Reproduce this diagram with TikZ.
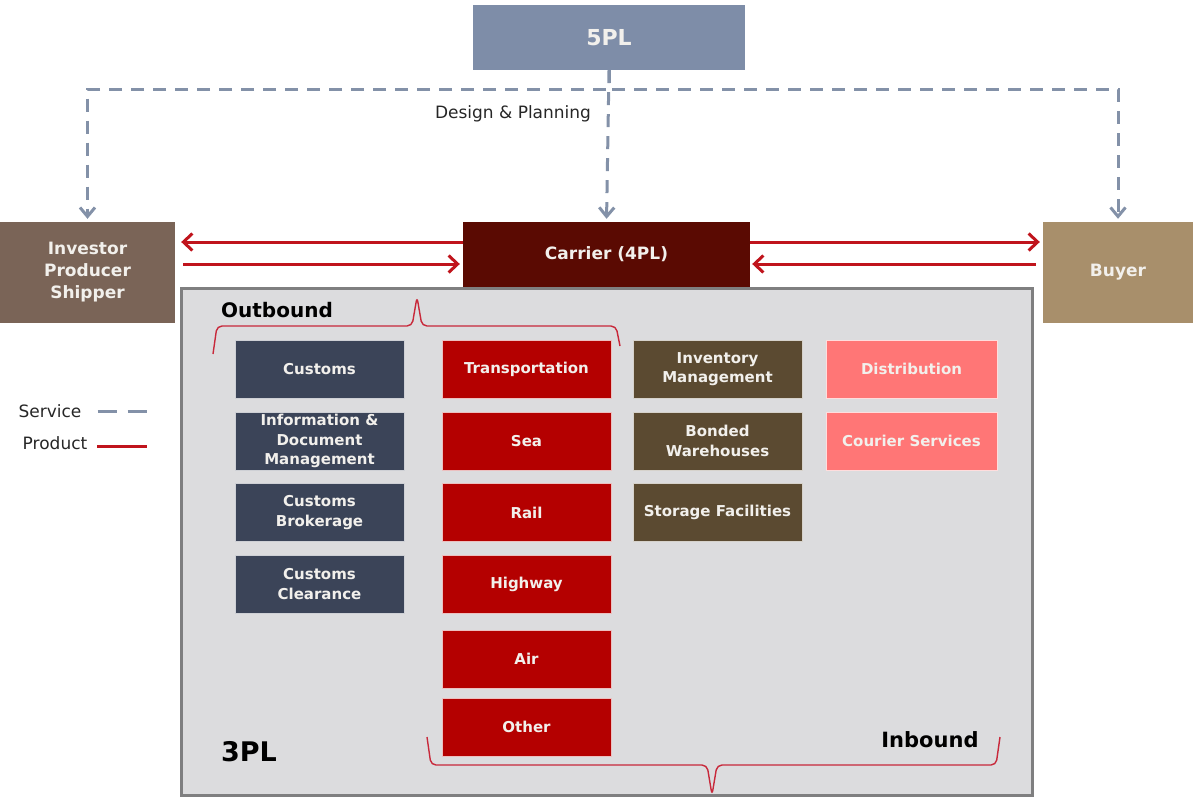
\documentclass[tikz,border=0pt]{standalone}
\usepackage{fontspec}
\setmainfont{DejaVu Sans}
\usetikzlibrary{arrows.meta}

\definecolor{fivepl}{HTML}{7E8DA8}
\definecolor{investor}{HTML}{7A6457}
\definecolor{carrier}{HTML}{5A0A02}
\definecolor{buyer}{HTML}{A88F6B}
\definecolor{tplfill}{HTML}{DCDCDE}
\definecolor{tplline}{HTML}{7F7F80}
\definecolor{navy}{HTML}{3B4458}
\definecolor{crimson}{HTML}{B40000}
\definecolor{olive}{HTML}{5B4A31}
\definecolor{salmon}{HTML}{FF7676}
\definecolor{prodline}{HTML}{C0141C}
\definecolor{svcline}{HTML}{8391A8}
\definecolor{boxtext}{HTML}{F2F0EC}
\definecolor{braceline}{HTML}{C8283A}

\tikzset{
  topbox/.style={rectangle, inner sep=0pt, align=center, text=boxtext,
    font=\fontsize{17}{22}\selectfont\bfseries},
  cell/.style={rectangle, inner sep=0pt, align=center, text=boxtext,
    minimum width=169pt, minimum height=58pt, draw=#1!25!white, line width=0.8pt,
    fill=#1, font=\fontsize{15}{19.5}\selectfont\bfseries},
  svc/.style={draw=svcline, line width=3pt, dash pattern=on 13pt off 9pt},
  svcarrow/.style={svc, -{Straight Barb[length=9pt,width=15pt]}, shorten >=3pt},
  prod/.style={draw=prodline, line width=3pt},
  prodarrow/.style={prod, -{Straight Barb[length=9pt,width=17pt]}},
  bracepath/.style={draw=braceline, line width=1.4pt, rounded corners=5pt},
  heading/.style={inner sep=0pt, font=\fontsize{20}{24}\selectfont\bfseries, text=black},
  legendtext/.style={inner sep=0pt, font=\fontsize{17}{21}\selectfont, text=black!85}
}

\begin{document}
\begin{tikzpicture}[x=1pt, y=-1pt]
\useasboundingbox (0,0) rectangle (1193,798);

% 3PL container
\node[rectangle, draw=tplline, line width=3pt, fill=tplfill, inner sep=0pt,
      minimum width=851pt, minimum height=507pt] (tpl) at (606.5,541.5) {};

% top level parties
\node[topbox, fill=fivepl, minimum width=272pt, minimum height=65pt,
      font=\fontsize{22}{26}\selectfont\bfseries] (p5) at (609,37.5) {5PL};
\node[topbox, fill=investor, minimum width=175pt, minimum height=101pt] (inv) at (87.5,272.5) {Investor\\Producer\\Shipper};
\node[topbox, fill=carrier, minimum width=287pt, minimum height=65pt] (car) at (606.5,254.5) {Carrier (4PL)};
\node[topbox, fill=buyer, minimum width=150pt, minimum height=101pt] (buy) at (1118,272.5) {Buyer};

% service flows from the 5PL
\draw[svcarrow] (p5.south) -- (car.north);
\draw[svcarrow] (p5.south) -- ++(0,19) -| (inv.north);
\draw[svcarrow] (p5.south) -- ++(0,19) -| (buy.north);
\node[legendtext] (design) at (513,114) {Design \& Planning};

% product flows
\draw[prodarrow, shorten >=6pt] (car.west |- 0,242) -- (inv.east |- 0,242);
\draw[prodarrow, shorten <=8pt, shorten >=3pt] (inv.east |- 0,264) -- (car.west |- 0,264);
\draw[prodarrow, shorten >=3pt] (car.east |- 0,242) -- (buy.west |- 0,242);
\draw[prodarrow, shorten <=7pt, shorten >=2pt] (buy.west |- 0,264) -- (car.east |- 0,264);

% customs column
\node[cell=navy] (cus) at (319.5,369) {Customs};
\node[cell=navy] (info) at (319.5,441) {Information \&\\Document\\Management};
\node[cell=navy] (brok) at (319.5,512.5) {Customs\\Brokerage};
\node[cell=navy] (clr) at (319.5,584) {Customs\\Clearance};

% transportation column
\node[cell=crimson] (trans) at (526.5,369) {Transportation};
\node[cell=crimson] (sea) at (526.5,441) {Sea};
\node[cell=crimson] (rail) at (526.5,512.5) {Rail};
\node[cell=crimson] (hwy) at (526.5,584) {Highway};
\node[cell=crimson] (air) at (526.5,659) {Air};
\node[cell=crimson] (oth) at (526.5,727) {Other};

% warehousing column
\node[cell=olive] (invm) at (717.5,369) {Inventory\\Management};
\node[cell=olive] (bond) at (717.5,441) {Bonded\\Warehouses};
\node[cell=olive] (stor) at (717.5,512.5) {Storage Facilities};

% distribution column
\node[cell=salmon, minimum width=171pt] (dist) at (911.5,369) {Distribution};
\node[cell=salmon, minimum width=171pt] (cour) at (911.5,441) {Courier Services};

% labels inside the 3PL area
\node[heading] (outb) at (277,310) {Outbound};
\node[heading, font=\fontsize{21}{24}\selectfont\bfseries] (inb) at (930,740) {Inbound};
\node[heading, font=\fontsize{27}{30}\selectfont\bfseries] (tpllabel) at (249,752) {3PL};

% braces
\draw[bracepath] (213,354) -- (217,326) -- (412,326) -- (417,297) -- (422,326) -- (616,326) -- (620,346);
\draw[bracepath] (427,737) -- (431,765) -- (707,765) -- (712,795) -- (717,765) -- (996,765) -- (1000,737);

% legend
\node[legendtext] (lsvc) at (50,411) {Service};
\node[legendtext] (lprod) at (55,443) {Product};
\draw[svc, dash pattern=on 19pt off 11pt] ([xshift=16pt]lsvc.east) -- ++(50,0);
\draw[prod] ([xshift=10pt]lprod.east |- 0,446) -- ++(50,0);

\end{tikzpicture}
\end{document}
